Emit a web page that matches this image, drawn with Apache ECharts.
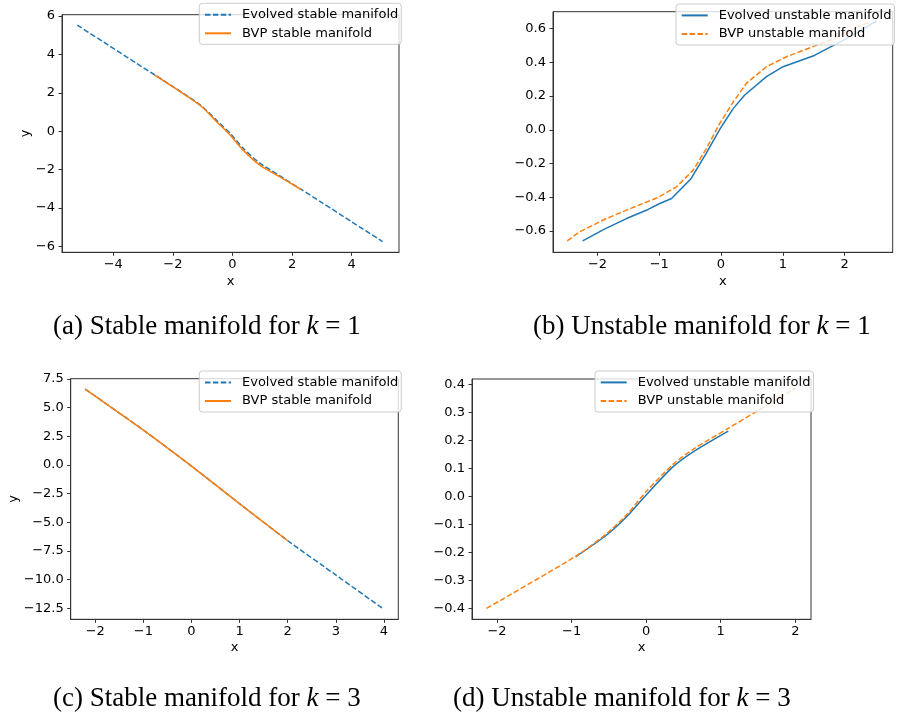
<!DOCTYPE html>
<html>
<head>
<meta charset="utf-8">
<script src="https://cdn.jsdelivr.net/npm/echarts@6/dist/echarts.min.js"></script>
<style>
html,body{margin:0;padding:0;background:#fff;}
#chart{width:900px;height:714px;}
</style>
</head>
<body>
<div id="chart"></div>
<script>
// ---------- data ----------
// (a) k = 1, stable manifold
const evolvedStableK1X = [-5.21, -4.2, -3.2, -2.6, -1.76, -1.03, -0.53, -0.08, 0.36, 0.92, 1.59, 2.27, 3.0, 4.0, 5.04];
const evolvedStableK1Y = [5.53, 4.52, 3.52, 2.93, 2.09, 1.31, 0.57, -0.10, -0.88, -1.66, -2.32, -2.99, -3.71, -4.71, -5.74];
const bvpStableK1X = [-2.62, -1.76, -1.03, -0.53, -0.08, 0.36, 0.92, 1.59, 2.30];
const bvpStableK1Y = [2.94, 2.07, 1.28, 0.50, -0.19, -0.98, -1.76, -2.37, -3.03];
// (b) k = 1, unstable manifold
const evolvedUnstableK1X = [-2.24, -1.88, -1.53, -1.18, -0.99, -0.80, -0.49, -0.24, -0.01, 0.20, 0.385, 0.736, 1.005, 1.49, 2.005, 2.52];
const evolvedUnstableK1Y = [-0.658, -0.587, -0.526, -0.472, -0.437, -0.407, -0.292, -0.14, 0.008, 0.127, 0.206, 0.315, 0.374, 0.437, 0.536, 0.645];
const bvpUnstableK1X = [-2.49, -2.29, -1.88, -1.53, -1.02, -0.72, -0.45, -0.235, -0.02, 0.20, 0.41, 0.736, 1.06, 1.49, 1.82, 2.03, 2.41];
const bvpUnstableK1Y = [-0.658, -0.605, -0.530, -0.476, -0.401, -0.338, -0.239, -0.11, 0.038, 0.166, 0.275, 0.374, 0.433, 0.493, 0.54, 0.58, 0.64];
// (c) k = 3, stable manifold
const evolvedStableK3X = [-2.21, -1.0, 0.0, 0.99, 2.01, 3.0, 3.97];
const evolvedStableK3Y = [6.63, 3.05, -0.09, -3.34, -6.63, -9.59, -12.5];
const bvpStableK3X = [-2.21, -1.0, 0.0, 0.99, 2.01];
const bvpStableK3Y = [6.63, 3.05, -0.09, -3.34, -6.63];
// (d) k = 3, unstable manifold
const evolvedUnstableK3X = [-0.946, -0.53, -0.263, 0.0, 0.362, 0.63, 1.10];
const evolvedUnstableK3Y = [-0.216, -0.138, -0.073, 0.005, 0.106, 0.159, 0.233];
const bvpUnstableK3X = [-2.14, -0.946, -0.53, -0.263, 0.0, 0.362, 0.63, 1.10, 1.48, 2.0];
const bvpUnstableK3Y = [-0.40, -0.214, -0.133, -0.066, 0.017, 0.115, 0.168, 0.243, 0.303, 0.386];

// tick labels
const xTicksA = [-4, -2, 0, 2, 4];
const yTicksA = [-6, -4, -2, 0, 2, 4, 6];
const xTicksB = [-2, -1, 0, 1, 2];
const yTicksB = [-0.6, -0.4, -0.2, 0.0, 0.2, 0.4, 0.6];
const xTicksC = [-2, -1, 0, 1, 2, 3, 4];
const yTicksC = [-12.5, -10.0, -7.5, -5.0, -2.5, 0.0, 2.5, 5.0, 7.5];
const xTicksD = [-2, -1, 0, 1, 2];
const yTicksD = [-0.4, -0.3, -0.2, -0.1, 0.0, 0.1, 0.2, 0.3, 0.4];

// names
const NAME_ES = 'Evolved stable manifold';
const NAME_BS = 'BVP stable manifold';
const NAME_EU = 'Evolved unstable manifold';
const NAME_BU = 'BVP unstable manifold';

// captions
const captions = [
  {pre: '(a) Stable manifold for ', post: ' = 1'},
  {pre: '(b) Unstable manifold for ', post: ' = 1'},
  {pre: '(c) Stable manifold for ', post: ' = 3'},
  {pre: '(d) Unstable manifold for ', post: ' = 3'}
];

// ---------- styling / layout ----------
const BLUE = '#1f77b4', ORANGE = '#ff7f0e';
const FONT = 'DejaVu Sans';
const DASH = [5.5, 2.4];
const zip = (xs, ys) => xs.map((x, i) => [x, ys[i]]);
const minus = s => s.replace('-', '\u2212');

const grids = [
  {left: 62, top: 14.7, width: 337, height: 237.6},
  {left: 553, top: 11.7, width: 339.7, height: 240.6},
  {left: 70.7, top: 378.7, width: 327.6, height: 240.6},
  {left: 472, top: 379, width: 339, height: 240.3}
];
const xRanges = [[-5.72, 5.59], [-2.72, 2.78], [-2.51, 4.30], [-2.335, 2.21]];
const yRanges = [[-6.30, 6.07], [-0.726, 0.70], [-13.46, 7.53], [-0.439, 0.419]];
const xTicks = [xTicksA, xTicksB, xTicksC, xTicksD];
const yTicks = [yTicksA, yTicksB, yTicksC, yTicksD];
const yDec = [0, 1, 1, 1];
const yNames = ['y', '', 'y', ''];
const yNameGaps = [28, 0, 50, 0];
const xNameGaps = [23, 23, 22, 22];

const xAxes = grids.map((g, i) => ({
  type: 'value', gridIndex: i, position: 'bottom', min: xRanges[i][0], max: xRanges[i][1],
  name: 'x', nameLocation: 'middle', nameGap: xNameGaps[i],
  nameTextStyle: {fontFamily: FONT, fontSize: 13, color: '#000'},
  axisLine: {show: true, onZero: false, lineStyle: {color: '#333', width: 1}},
  splitLine: {show: false},
  axisTick: {show: true, inside: false, length: 3.5, customValues: xTicks[i], lineStyle: {color: '#333', width: 1}},
  axisLabel: {customValues: xTicks[i], margin: 6, fontFamily: FONT, fontSize: 13, color: '#000',
    formatter: v => minus(String(Math.round(v)))}
}));
const yAxes = grids.map((g, i) => ({
  type: 'value', gridIndex: i, position: 'left', min: yRanges[i][0], max: yRanges[i][1],
  name: yNames[i], nameLocation: 'middle', nameGap: yNameGaps[i], nameRotate: 90,
  nameTextStyle: {fontFamily: FONT, fontSize: 13, color: '#000'},
  axisLine: {show: true, onZero: false, lineStyle: {color: '#333', width: 1}},
  splitLine: {show: false},
  axisTick: {show: true, inside: false, length: 3.5, customValues: yTicks[i], lineStyle: {color: '#333', width: 1}},
  axisLabel: {customValues: yTicks[i], margin: 7, fontFamily: FONT, fontSize: 13, color: '#000',
    formatter: v => minus(Number(v).toFixed(yDec[i]))}
}));

function lineSeries(name, idx, data, color, dashed, smooth) {
  return {
    type: 'line', name: name, xAxisIndex: idx, yAxisIndex: idx, data: data,
    symbol: 'none', showSymbol: false, smooth: smooth, animation: false,
    lineStyle: {color: color, width: 1.5, type: dashed ? DASH : 'solid'},
    itemStyle: {color: color}
  };
}

const series = [
  lineSeries(NAME_ES, 0, zip(evolvedStableK1X, evolvedStableK1Y), BLUE, true, 0.25),
  lineSeries(NAME_BS, 0, zip(bvpStableK1X, bvpStableK1Y), ORANGE, false, 0.25),
  lineSeries(NAME_EU, 1, zip(evolvedUnstableK1X, evolvedUnstableK1Y), BLUE, false, false),
  lineSeries(NAME_BU, 1, zip(bvpUnstableK1X, bvpUnstableK1Y), ORANGE, true, false),
  lineSeries(NAME_ES, 2, zip(evolvedStableK3X, evolvedStableK3Y), BLUE, true, 0.2),
  lineSeries(NAME_BS, 2, zip(bvpStableK3X, bvpStableK3Y), ORANGE, false, 0.2),
  lineSeries(NAME_EU, 3, zip(evolvedUnstableK3X, evolvedUnstableK3Y), BLUE, false, 0.25),
  lineSeries(NAME_BU, 3, zip(bvpUnstableK3X, bvpUnstableK3Y), ORANGE, true, 0.25)
];

function legend(names, left, top) {
  return {
    data: names, orient: 'vertical', left: left, top: top,
    padding: [4.4, 3, 4, 4.7], itemWidth: 26, itemHeight: 14, itemGap: 4.6,
    backgroundColor: 'rgba(255,255,255,0.8)', borderColor: '#cccccc', borderWidth: 1, borderRadius: 3,
    selectedMode: false,
    itemStyle: {color: 'transparent', borderWidth: 0, opacity: 0},
    textStyle: {fontFamily: FONT, fontSize: 13, color: '#000', lineHeight: 14, padding: [0, 0, 0, 6]}
  };
}

const capPos = [[53, 327], [533, 327], [53, 699], [453, 699]];
const graphic = captions.map((c, i) => ({
  type: 'text', x: capPos[i][0], y: capPos[i][1],
  style: {
    text: '{n|' + c.pre + '}{i|k}{n|' + c.post + '}',
    verticalAlign: 'middle', align: 'left',
    rich: {
      n: {fontFamily: 'Liberation Serif', fontSize: 27, fill: '#000'},
      i: {fontFamily: 'Liberation Serif', fontSize: 27, fontStyle: 'italic', fill: '#000'}
    }
  }
}));

const chart = echarts.init(document.getElementById('chart'), null, {renderer: 'canvas'});
chart.setOption({
  animation: false,
  backgroundColor: '#fff',
  grid: grids.map(g => Object.assign({show: true, borderColor: '#333', borderWidth: 1, backgroundColor: 'transparent'}, g)),
  xAxis: xAxes,
  yAxis: yAxes,
  legend: [
    legend([NAME_ES, NAME_BS], 199.3, 3.3),
    legend([NAME_EU, NAME_BU], 676, 4),
    legend([NAME_ES, NAME_BS], 199.3, 371),
    legend([NAME_EU, NAME_BU], 595, 371)
  ],
  series: series,
  graphic: graphic
});
</script>
</body>
</html>
